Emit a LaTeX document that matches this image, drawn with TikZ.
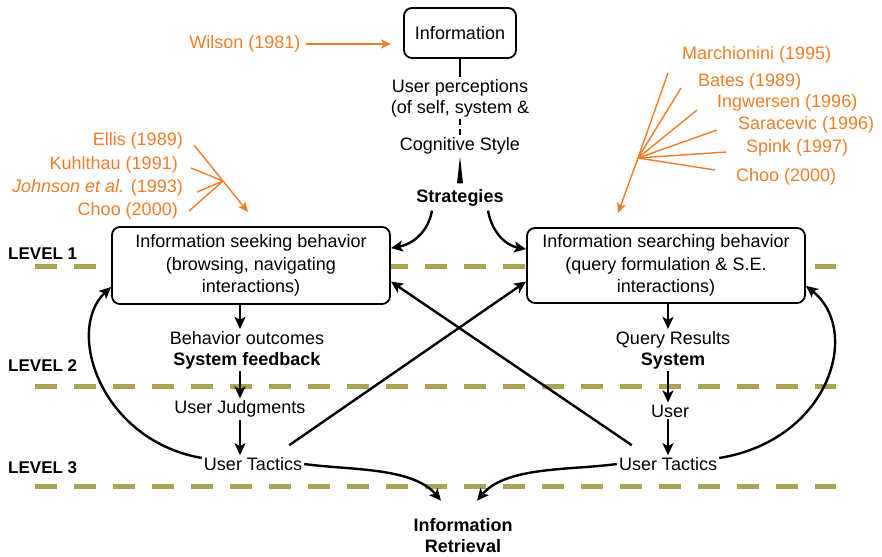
\documentclass[tikz,border=0pt]{standalone}
\usepackage{fontspec}
\setmainfont{Liberation Sans}
\usetikzlibrary{arrows.meta}

\begin{document}
\begin{tikzpicture}[x=1pt,y=1pt,font=\fontsize{18}{21}\selectfont,
    txt/.style={inner sep=2pt,align=center},
    box/.style={draw,line width=1.8pt,rounded corners=8pt,fill=white,align=center,
                inner sep=2pt,font=\fontsize{18}{22.5}\selectfont},
    flow/.style={line width=2.4pt,-{Stealth[length=12pt,width=11pt,inset=3pt]}},
    stem/.style={line width=2pt},
    cite/.style={text=kOrange,inner sep=2pt},
    citeline/.style={color=kOrange,line width=1.4pt},
    citearrow/.style={citeline,-{Stealth[length=10pt,width=9pt,inset=2.5pt]}},
    level/.style={font=\fontsize{17}{20}\selectfont\bfseries,inner sep=0pt,anchor=west},
    levelline/.style={color=kOlive,line width=5pt,dash pattern=on 22pt off 17pt}]
  \definecolor{kOrange}{rgb}{0.93,0.49,0.16}
  \definecolor{kOlive}{rgb}{0.67,0.64,0.33}
  \useasboundingbox (0,0) rectangle (882,-556);

  % level lines
  \foreach \y in {266,386,486}
  {
    \draw[levelline] (35,-\y) -- (836,-\y);
  }
  \node[level] (lev1) at (8,-254) {LEVEL 1};
  \node[level] (lev2) at (8,-366) {LEVEL 2};
  \node[level] (lev3) at (8,-468) {LEVEL 3};

  % top column
  \node[box,minimum width=112pt,minimum height=50pt] (info) at (460,-33) {Information};
  \node[txt] (perc) at (460,-98) {User perceptions\\(of self, system \&};
  \node[txt] (cog) at (460,-146) {Cognitive Style};
  \node[txt,font=\fontsize{18}{21}\selectfont\bfseries] (strat) at (460,-198) {Strategies};
  \draw[stem] (info.south) -- (perc.north);
  \draw[stem,dash pattern=on 6pt off 4pt] (perc.south) -- (cog.north);
  \fill (cog.south) -- ([xshift=-3pt,yshift=4pt]strat.north) -- ([xshift=3pt,yshift=4pt]strat.north) -- cycle;

  % behaviour boxes
  \node[box,minimum width=278pt,minimum height=77pt] (seek) at (251,-265.5)
    {Information seeking behavior\\(browsing, navigating\\interactions)};
  \node[box,minimum width=278pt,minimum height=75pt] (srch) at (666,-265.5)
    {Information searching behavior\\(query formulation \& S.E.\\interactions)};
  \draw[flow] ([xshift=-28pt,yshift=-2pt]strat.south) to[out=-100,in=10] ([yshift=-22pt]seek.north east);
  \draw[flow] ([xshift=28pt,yshift=-2pt]strat.south) to[out=-80,in=170] ([yshift=-22pt]srch.north west);

  % left column
  \node[txt] (outL) at (247,-350) {Behavior outcomes\\\textbf{System feedback}};
  \node[txt] (judL) at (240,-409) {User Judgments};
  \node[txt] (tacL) at (253,-464) {User Tactics};
  \draw[flow] (seek.south -| judL) -- (outL.north -| judL);
  \draw[flow] (outL.south -| judL) -- (judL.north);
  \draw[flow] (judL.south) -- (judL.south |- tacL.north);

  % right column
  \node[txt] (outR) at (673,-350) {Query Results\\\textbf{System}};
  \node[txt] (userR) at (670,-411) {User};
  \node[txt] (tacR) at (668,-464) {User Tactics};
  \draw[flow] (srch.south -| tacR) -- (outR.north -| tacR);
  \draw[flow] (outR.south -| tacR) -- (userR.north -| tacR);
  \draw[flow] (userR.south -| tacR) -- (tacR.north);

  % feedback loops
  \draw[flow] ([shift={(-15pt,10pt)}]tacL.north east) -- ([yshift=-16pt]srch.west);
  \draw[flow] ([shift={(15pt,10pt)}]tacR.north west) -- ([yshift=-16pt]seek.east);
  \draw[flow] ([yshift=6pt]tacL.west) .. controls (100,-440) and (65,-330) .. ([yshift=18pt]seek.south west);
  \draw[flow] ([yshift=6pt]tacR.east) .. controls (830,-440) and (862,-330) .. ([yshift=18pt]srch.south east);

  % retrieval
  \node[txt,font=\fontsize{18}{21}\selectfont\bfseries] (ir) at (463,-536) {Information\\Retrieval};
  \draw[flow] (tacL.east) to[out=-8,in=130,looseness=0.8] ([xshift=-22pt,yshift=16pt]ir.north);
  \draw[flow] (tacR.west) to[out=188,in=50,looseness=0.8] ([xshift=14pt,yshift=16pt]ir.north);

  % citations - top
  \node[cite] (wil) at (245,-44) {Wilson (1981)};
  \draw[citearrow,shorten <=3pt,shorten >=12pt] (wil.east) -- (wil.east -| info.west);

  % citations - left
  \node[cite,anchor=east] (ellis) at (185,-141) {Ellis (1989)};
  \node[cite,anchor=east] (kuhl) at (180,-165) {Kuhlthau (1991)};
  \node[cite,anchor=east] (john) at (185,-188) {\textit{Johnson et al.} (1993)};
  \node[cite,anchor=east] (chooL) at (180,-211) {Choo (2000)};
  \coordinate (hubL) at (223,-181);
  \coordinate (tipL) at (248,-212);
  \draw[citearrow] ([shift={(9pt,-4pt)}]ellis.east) -- (hubL) -- (tipL);
  \draw[citeline] ([shift={(11pt,-3pt)}]kuhl.east) -- (hubL);
  \draw[citeline] ([shift={(12pt,-4pt)}]john.east) -- (hubL);
  \draw[citeline] ([shift={(9pt,0pt)}]chooL.east) -- (hubL);

  % citations - right
  \node[cite,anchor=west] (marc) at (680,-55) {Marchionini (1995)};
  \node[cite,anchor=west] (bates) at (696,-82) {Bates (1989)};
  \node[cite,anchor=west] (ingw) at (715,-103) {Ingwersen (1996)};
  \node[cite,anchor=west] (sara) at (736,-125) {Saracevic (1996)};
  \node[cite,anchor=west] (spink) at (744,-148) {Spink (1997)};
  \node[cite,anchor=west] (chooR) at (734,-177) {Choo (2000)};
  \coordinate (hubR) at (638,-158);
  \coordinate (tipR) at (618,-213);
  \draw[citearrow] ([shift={(-12pt,-18pt)}]marc.west) -- (hubR) -- (tipR);
  \draw[citeline] ([shift={(-15pt,-6pt)}]bates.west) -- (hubR);
  \draw[citeline] ([shift={(-18pt,-7pt)}]ingw.west) -- (hubR);
  \draw[citeline] ([shift={(-19pt,-5pt)}]sara.west) -- (hubR);
  \draw[citeline] ([shift={(-18pt,-4pt)}]spink.west) -- (hubR);
  \draw[citeline] ([shift={(-19pt,7pt)}]chooR.west) -- (hubR);
\end{tikzpicture}
\end{document}
